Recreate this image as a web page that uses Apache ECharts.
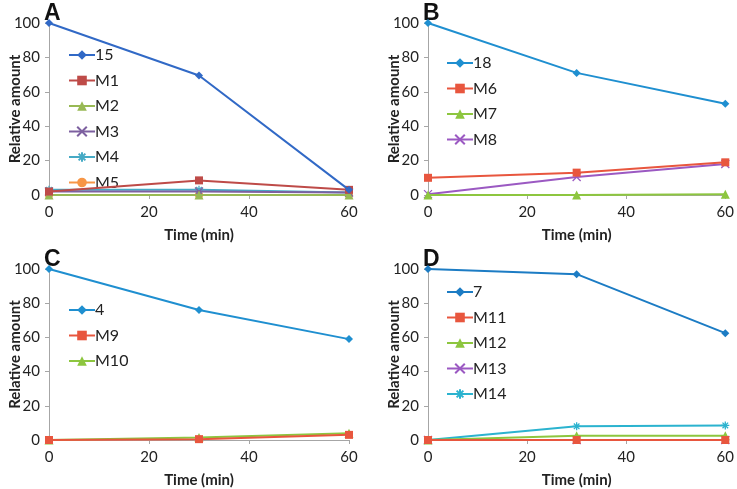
<!DOCTYPE html>
<html>
<head>
<meta charset="utf-8">
<script src="https://cdn.jsdelivr.net/npm/echarts@6/dist/echarts.min.js"></script>
<style>
  html, body { margin: 0; padding: 0; background: #fff; }
  #main { width: 737px; height: 489px; }
</style>
</head>
<body>
<div id="main"></div>
<script>
// time points (min)
const times = [0, 30, 60];
const xTicks = [0, 20, 40, 60];
const yTicks = [0, 20, 40, 60, 80, 100];
const panelLabels = ["A", "B", "C", "D"];

// panel A
const namesA = ["15", "M1", "M2", "M3", "M4", "M5"];
const valuesA = [
  [100, 69.5, 3],
  [2, 8.5, 3],
  [0, 0, 0],
  [2, 2, 1.5],
  [3, 3, 1.5],
  [0, 0, 0]
];
// panel B
const namesB = ["18", "M6", "M7", "M8"];
const valuesB = [
  [100, 71, 53],
  [10, 13, 19],
  [0, 0, 0.5],
  [0.5, 10.5, 18]
];
// panel C
const namesC = ["4", "M9", "M10"];
const valuesC = [
  [100, 76, 59],
  [0, 0.5, 3],
  [0, 1.5, 4]
];
// panel D
const namesD = ["7", "M11", "M12", "M13", "M14"];
const valuesD = [
  [100, 97, 62.5],
  [0, 0, 0],
  [0, 2.5, 2.5],
  [0, 0, 0],
  [0, 8, 8.5]
];

const X_PATH = "path://M0,0L10,10M10,0L0,10";
const STAR_PATH = "path://M5,0L5,10M0,5L10,5M1.5,1.5L8.5,8.5M8.5,1.5L1.5,8.5";

const panels = [
  { names: namesA, values: valuesA,
    colors: ["#3169C6", "#BE4B48", "#98B954", "#7D60A0", "#46AAC5", "#F79646"],
    symbols: ["diamond", "rect", "triangle", X_PATH, STAR_PATH, "circle"],
    grid: { left: 49, top: 23 }, legend: { left: 63, top: 42 } },
  { names: namesB, values: valuesB,
    colors: ["#1F8FD0", "#E8563E", "#8DC63F", "#9B59C2"],
    symbols: ["diamond", "rect", "triangle", X_PATH],
    grid: { left: 428, top: 23 }, legend: { left: 441, top: 50 } },
  { names: namesC, values: valuesC,
    colors: ["#1F8FD0", "#E8563E", "#8DC63F"],
    symbols: ["diamond", "rect", "triangle"],
    grid: { left: 49, top: 269 }, legend: { left: 63, top: 297 } },
  { names: namesD, values: valuesD,
    colors: ["#1C7CC4", "#E8563E", "#8DC63F", "#9B59C2", "#2BB3CF"],
    symbols: ["diamond", "rect", "triangle", X_PATH, STAR_PATH],
    grid: { left: 428, top: 269 }, legend: { left: 441, top: 279 } }
];

const font = "Lato, 'Liberation Sans', sans-serif";
const chart = echarts.init(document.getElementById("main"));

const grids = [], xAxes = [], yAxes = [], series = [], legends = [], titles = [];
panels.forEach((p, i) => {
  grids.push({ left: p.grid.left, top: p.grid.top, width: 300, height: 172 });
  xAxes.push({
    gridIndex: i, type: "value", min: 0, max: 60, interval: 20,
    name: "Time (min)", nameLocation: "middle", nameGap: 33,
    nameTextStyle: { fontFamily: font, fontSize: 15, fontWeight: "bold", color: "#222" },
    axisLine: { show: true, lineStyle: { color: "#A6A6A6" } },
    axisTick: { show: true, length: 4, lineStyle: { color: "#A6A6A6" } },
    axisLabel: { fontFamily: font, fontSize: 15, color: "#222", margin: 10,
      formatter: v => xTicks.includes(v) ? String(v) : "" },
    splitLine: { show: false }
  });
  yAxes.push({
    gridIndex: i, type: "value", min: 0, max: 100, interval: 20,
    name: "Relative amount", nameLocation: "middle", nameGap: 26,
    nameMoveOverlap: false,
    nameTextStyle: { fontFamily: font, fontSize: 15, fontWeight: "bold", color: "#222" },
    axisLine: { show: true, lineStyle: { color: "#A6A6A6" } },
    axisTick: { show: true, length: 4, lineStyle: { color: "#A6A6A6" } },
    axisLabel: { fontFamily: font, fontSize: 15, color: "#222", margin: 9,
      formatter: v => yTicks.includes(v) ? String(v) : "" },
    splitLine: { show: false }
  });
  p.names.forEach((n, k) => {
    const c = p.colors[k];
    const isStroke = p.symbols[k].startsWith("path://");
    series.push({
      name: n, type: "line", xAxisIndex: i, yAxisIndex: i,
      data: times.map((t, j) => [t, p.values[k][j]]),
      symbol: p.symbols[k],
      symbolSize: p.symbols[k] === "triangle" ? 9 : 8,
      lineStyle: { color: c, width: 2 },
      itemStyle: isStroke
        ? { color: "rgba(0,0,0,0)", borderColor: c, borderWidth: 1.3 }
        : { color: c, borderColor: c, borderWidth: 0 },
      z: 10 - k
    });
  });
  legends.push({
    data: p.names, orient: "vertical", left: p.legend.left, top: p.legend.top,
    itemWidth: 26, itemHeight: 12, itemGap: 9.5,
    textStyle: { fontFamily: font, fontSize: 16, color: "#222", padding: [0, 0, 0, -5] },
    selectedMode: false
  });
  titles.push({
    text: panelLabels[i],
    left: p.grid.left - 10, top: p.grid.top - 26,
    textStyle: { fontFamily: "'Liberation Sans', Arial, sans-serif", fontSize: 23, fontWeight: "bold", color: "#111" }
  });
});

chart.setOption({
  animation: false,
  backgroundColor: "#fff",
  title: titles,
  grid: grids,
  xAxis: xAxes,
  yAxis: yAxes,
  legend: legends,
  series: series
});
</script>
</body>
</html>
